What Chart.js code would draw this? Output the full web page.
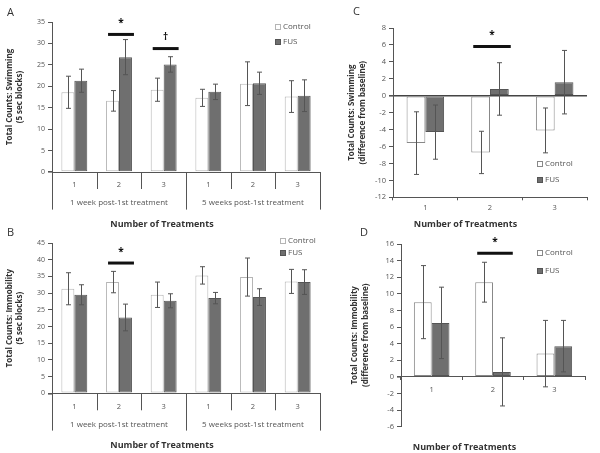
<!DOCTYPE html>
<html><head><meta charset="utf-8">
<script src="https://cdn.jsdelivr.net/npm/chart.js@4.4.0/dist/chart.umd.min.js"></script>
<style>
html,body{margin:0;padding:0;background:#fff;}
#wrap{position:relative;width:600px;height:453px;overflow:hidden;background:#fff;}
canvas{position:absolute;}
</style></head><body>
<div id="wrap">
<canvas id="cA" width="330" height="230" style="left:0px;top:0px"></canvas>
<canvas id="cC" width="260" height="230" style="left:340px;top:0px"></canvas>
<canvas id="cB" width="330" height="227" style="left:0px;top:226px"></canvas>
<canvas id="cD" width="260" height="227" style="left:340px;top:226px"></canvas>
</div>
<script>
// ---------- DATA ----------
const seriesNames = ['Control', 'FUS'];
const xTitle = 'Number of Treatments';

// Panel A: swimming (5 sec blocks)
const aCats = ['1', '2', '3', '1', '2', '3'];
const aGroups = ['1 week post-1st treatment', '5 weeks post-1st treatment'];
const aControl = [18.6, 16.6, 19.2, 17.3, 20.6, 17.6];
const aControlErr = [3.75, 2.4, 2.7, 2.0, 5.1, 3.7];
const aFUS = [21.3, 26.8, 25.1, 18.7, 20.7, 17.8];
const aFUSErr = [2.7, 4.1, 1.8, 1.8, 2.6, 3.7];
const aSigIndex = [1, 2];
const aSigLevel = [32.1, 28.8];
const aSigSymbol = ['*', '\u2020'];
const aYTitle = ['Total Counts: Swimming', '(5 sec blocks)'];

// Panel B: immobility (5 sec blocks)
const bCats = ['1', '2', '3', '1', '2', '3'];
const bGroups = ['1 week post-1st treatment', '5 weeks post-1st treatment'];
const bControl = [31.3, 33.3, 29.5, 35.3, 34.8, 33.5];
const bControlErr = [4.8, 3.2, 3.8, 2.6, 5.7, 3.6];
const bFUS = [29.5, 22.7, 27.7, 28.5, 28.8, 33.3];
const bFUSErr = [3.0, 4.0, 2.1, 1.7, 2.5, 3.7];
const bSigIndex = [1];
const bSigLevel = [39];
const bSigSymbol = ['*'];
const bYTitle = ['Total Counts: Immobility', '(5 sec blocks)'];

// Panel C: swimming difference from baseline
const cCats = ['1', '2', '3'];
const cControl = [-5.6, -6.7, -4.1];
const cControlErr = [3.7, 2.5, 2.65];
const cFUS = [-4.3, 0.8, 1.6];
const cFUSErr = [3.2, 3.1, 3.75];
const cSigIndex = [1];
const cSigLevel = [5.8];
const cSigSymbol = ['*'];
const cYTitle = ['Total Counts: Swimming', '(difference from baseline)'];

// Panel D: immobility difference from baseline
const dCats = ['1', '2', '3'];
const dControl = [9.0, 11.4, 2.8];
const dControlErr = [4.4, 2.4, 4.0];
const dFUS = [6.5, 0.6, 3.7];
const dFUSErr = [4.3, 4.1, 3.1];
const dSigIndex = [1];
const dSigLevel = [14.9];
const dSigSymbol = ['*'];
const dYTitle = ['Total Counts: Immobility', '(difference from baseline)'];

// ---------- STYLE ----------
const FONT = '"Open Sans", Lato, "DejaVu Sans", sans-serif';
Chart.defaults.font.family = FONT;
Chart.defaults.color = '#555';
const AXIS = '#555';
const FUS_FILL = '#6f6f6f';
const FUS_BORDER = '#555';

const errorBarPlugin = {
  id: 'errorBars',
  afterDatasetsDraw(chart) {
    const ctx = chart.ctx, y = chart.scales.y;
    ctx.save();
    ctx.strokeStyle = '#555';
    ctx.lineWidth = 1;
    chart.data.datasets.forEach((ds, i) => {
      const meta = chart.getDatasetMeta(i);
      meta.data.forEach((bar, j) => {
        const v = ds.data[j], e = ds.errors[j];
        const t = y.getPixelForValue(v + e), b = y.getPixelForValue(v - e);
        const cx = Math.round(bar.x) + 0.5, cap = 2.5;
        ctx.beginPath();
        ctx.moveTo(cx, t); ctx.lineTo(cx, b);
        ctx.moveTo(cx - cap, t); ctx.lineTo(cx + cap, t);
        ctx.moveTo(cx - cap, b); ctx.lineTo(cx + cap, b);
        ctx.stroke();
      });
    });
    ctx.restore();
  }
};

function makePanel(id, cfg) {
  const el = document.getElementById(id);
  const datasets = [
    { label: seriesNames[0], data: cfg.control, errors: cfg.controlErr,
      backgroundColor: '#ffffff', borderColor: cfg.ctrlBorder, borderWidth: 1,
      borderSkipped: false, categoryPercentage: 0.58, barPercentage: 1 },
    { label: seriesNames[1], data: cfg.fus, errors: cfg.fusErr,
      backgroundColor: FUS_FILL, borderColor: FUS_BORDER, borderWidth: 1,
      borderSkipped: false, categoryPercentage: 0.58, barPercentage: 1 }
  ];

  const scales = {};
  if (cfg.groups) {
    scales.x = {
      type: 'category', position: 'bottom', weight: 0, offset: true,
      grid: { drawOnChartArea: false, drawTicks: false },
      border: { display: true, color: AXIS, width: 1 },
      ticks: { font: { size: 7.5 }, color: '#555', padding: cfg.xPad, autoSkip: false, maxRotation: 0 },
      afterFit(s) { s.height = 22; }
    };
    scales.x2 = {
      type: 'category', labels: cfg.groups, position: 'bottom', weight: 1, offset: true,
      grid: { display: false, drawTicks: false },
      border: { display: false },
      ticks: { font: { size: 8 }, color: '#555', padding: cfg.x2Pad, autoSkip: false, maxRotation: 0 },
      afterFit(s) { s.height = cfg.x2H; }
    };
  } else {
    scales.x = {
      type: 'category', position: cfg.xPosition, offset: true,
      grid: { offset: true, drawOnChartArea: false, drawTicks: true, tickLength: 3, color: AXIS },
      border: { display: true, color: AXIS, width: 1 },
      ticks: { font: { size: 7.5 }, color: '#555', padding: cfg.xPad, autoSkip: false, maxRotation: 0 },
      afterFit(s) { if (cfg.xH) s.height = cfg.xH; }
    };
  }
  scales.y = {
    min: cfg.yMin, max: cfg.yMax,
    ticks: { stepSize: cfg.yStep, font: { size: cfg.tickSize }, color: '#555', padding: 3 },
    grid: {
      drawOnChartArea: !!cfg.zeroLine,
      color: (c) => (cfg.zeroLine && c.tick && c.tick.value === 0) ? '#444' : 'rgba(0,0,0,0)',
      lineWidth: (c) => (c.tick && c.tick.value === 0) ? 1.6 : 1,
      drawTicks: true, tickLength: 4, tickColor: AXIS
    },
    border: { display: true, color: AXIS, width: 1 },
    title: { display: true, text: cfg.yTitle, color: '#333',
      font: { size: 8, weight: 'bold', lineHeight: 1.35 }, padding: { top: cfg.yTitlePad, bottom: 0 } },
    afterFit(s) { s.width = cfg.yW; }
  };

  const extras = {
    id: 'extras_' + id,
    afterDatasetsDraw(chart) {
      const ctx = chart.ctx, y = chart.scales.y;
      const m0 = chart.getDatasetMeta(0), m1 = chart.getDatasetMeta(1);
      ctx.save();
      cfg.sigIndex.forEach((k, n) => {
        const b0 = m0.data[k], b1 = m1.data[k];
        const x1 = b0.x - b0.width / 2 + 2, x2 = b1.x + b1.width / 2 + 2;
        const py = y.getPixelForValue(cfg.sigLevel[n]);
        ctx.strokeStyle = '#111'; ctx.lineWidth = 3;
        ctx.beginPath(); ctx.moveTo(x1, py); ctx.lineTo(x2, py); ctx.stroke();
        ctx.fillStyle = '#111';
        ctx.font = 'bold 10px ' + FONT;
        ctx.textAlign = 'center'; ctx.textBaseline = 'middle';
        ctx.fillText(cfg.sigSymbol[n], (x1 + x2) / 2, py - 11);
      });
      ctx.restore();
    },
    afterDraw(chart) {
      const ctx = chart.ctx;
      ctx.save();
      if (cfg.groups) {
        const x = chart.scales.x, x2 = chart.scales.x2;
        const n = cfg.cats.length, per = n / cfg.groups.length;
        const step = x.width / n;
        ctx.strokeStyle = AXIS; ctx.lineWidth = 1;
        for (let k = 0; k <= n; k++) {
          const px = Math.round(x.left + k * step) + 0.5;
          const long = k % per === 0;
          ctx.beginPath();
          ctx.moveTo(px, x.top);
          ctx.lineTo(px, long ? x2.bottom - 5 : x.top + 17);
          ctx.stroke();
        }
      }
      const lg = cfg.legend;
      ctx.font = lg.size + 'px ' + FONT;
      ctx.textAlign = 'left'; ctx.textBaseline = 'middle';
      chart.data.datasets.forEach((ds, i) => {
        const ly = lg.rows[i];
        ctx.fillStyle = ds.backgroundColor;
        ctx.fillRect(lg.x, ly - 2.5, 5, 5);
        ctx.strokeStyle = ds.borderColor; ctx.lineWidth = 1;
        ctx.strokeRect(lg.x + 0.5, ly - 2.5, 5, 5);
        ctx.fillStyle = '#555';
        ctx.fillText(ds.label, lg.x + 8, ly);
      });
      ctx.font = '11px ' + FONT;
      ctx.fillStyle = '#333';
      ctx.fillText(cfg.letter, cfg.letterX, cfg.letterY);
      ctx.restore();
    }
  };

  return new Chart(el, {
    type: 'bar',
    data: { labels: cfg.cats, datasets },
    options: {
      responsive: false, animation: false, devicePixelRatio: 1,
      layout: { padding: cfg.padding },
      scales,
      plugins: {
        legend: { display: false }, tooltip: { enabled: false },
        title: { display: true, position: 'bottom', text: xTitle, color: '#333',
          font: { size: 9, weight: 'bold' }, padding: cfg.titlePad }
      }
    },
    plugins: [errorBarPlugin, extras]
  });
}

makePanel('cA', {
  cats: aCats, groups: aGroups, control: aControl, controlErr: aControlErr, fus: aFUS, fusErr: aFUSErr,
  sigIndex: aSigIndex, sigLevel: aSigLevel, sigSymbol: aSigSymbol, yTitle: aYTitle,
  ctrlBorder: '#b5b5b5', yMin: 0, yMax: 35, yStep: 5, tickSize: 7,
  padding: { top: 22, left: 4, right: 10, bottom: 0 }, yW: 48, yTitlePad: 0,
  xPad: 8.8, x2Pad: 4.2, x2H: 20.6, titlePad: { top: 4, bottom: 0.6 },
  legend: { x: 275, rows: [27, 42], size: 8 }, letter: 'A', letterX: 7, letterY: 13
});

makePanel('cB', {
  cats: bCats, groups: bGroups, control: bControl, controlErr: bControlErr, fus: bFUS, fusErr: bFUSErr,
  sigIndex: bSigIndex, sigLevel: bSigLevel, sigSymbol: bSigSymbol, yTitle: bYTitle,
  ctrlBorder: '#b5b5b5', yMin: 0, yMax: 45, yStep: 5, tickSize: 7,
  padding: { top: 17, left: 4, right: 10, bottom: 2 }, yW: 48, yTitlePad: 0,
  xPad: 9.3, x2Pad: 4.9, x2H: 20.3, titlePad: { top: 4, bottom: 0.6 },
  legend: { x: 280, rows: [15, 27], size: 8 }, letter: 'B', letterX: 7, letterY: 7
});

makePanel('cC', {
  cats: cCats, control: cControl, controlErr: cControlErr, fus: cFUS, fusErr: cFUSErr,
  sigIndex: cSigIndex, sigLevel: cSigLevel, sigSymbol: cSigSymbol, yTitle: cYTitle,
  ctrlBorder: '#888', yMin: -12, yMax: 8, yStep: 2, tickSize: 7.5, zeroLine: true,
  xPosition: 'bottom', xPad: 3.5, xH: 17.3,
  padding: { top: 28, left: 4, right: 13, bottom: 0 }, yW: 49, yTitlePad: 2.6,
  titlePad: { top: 4, bottom: 0.6 },
  legend: { x: 197, rows: [164, 180], size: 8 }, letter: 'C', letterX: 13, letterY: 12
});

makePanel('cD', {
  cats: dCats, control: dControl, controlErr: dControlErr, fus: dFUS, fusErr: dFUSErr,
  sigIndex: dSigIndex, sigLevel: dSigLevel, sigSymbol: dSigSymbol, yTitle: dYTitle,
  ctrlBorder: '#888', yMin: -6, yMax: 16, yStep: 2, tickSize: 7.5,
  xPosition: { y: 0 }, xPad: 5.5,
  padding: { top: 18, left: 4, right: 15, bottom: 0 }, yW: 57, yTitlePad: 5.6,
  titlePad: { top: 15.1, bottom: 0.4 },
  legend: { x: 197, rows: [27, 45], size: 8 }, letter: 'D', letterX: 20, letterY: 7
});
</script>
</body></html>
